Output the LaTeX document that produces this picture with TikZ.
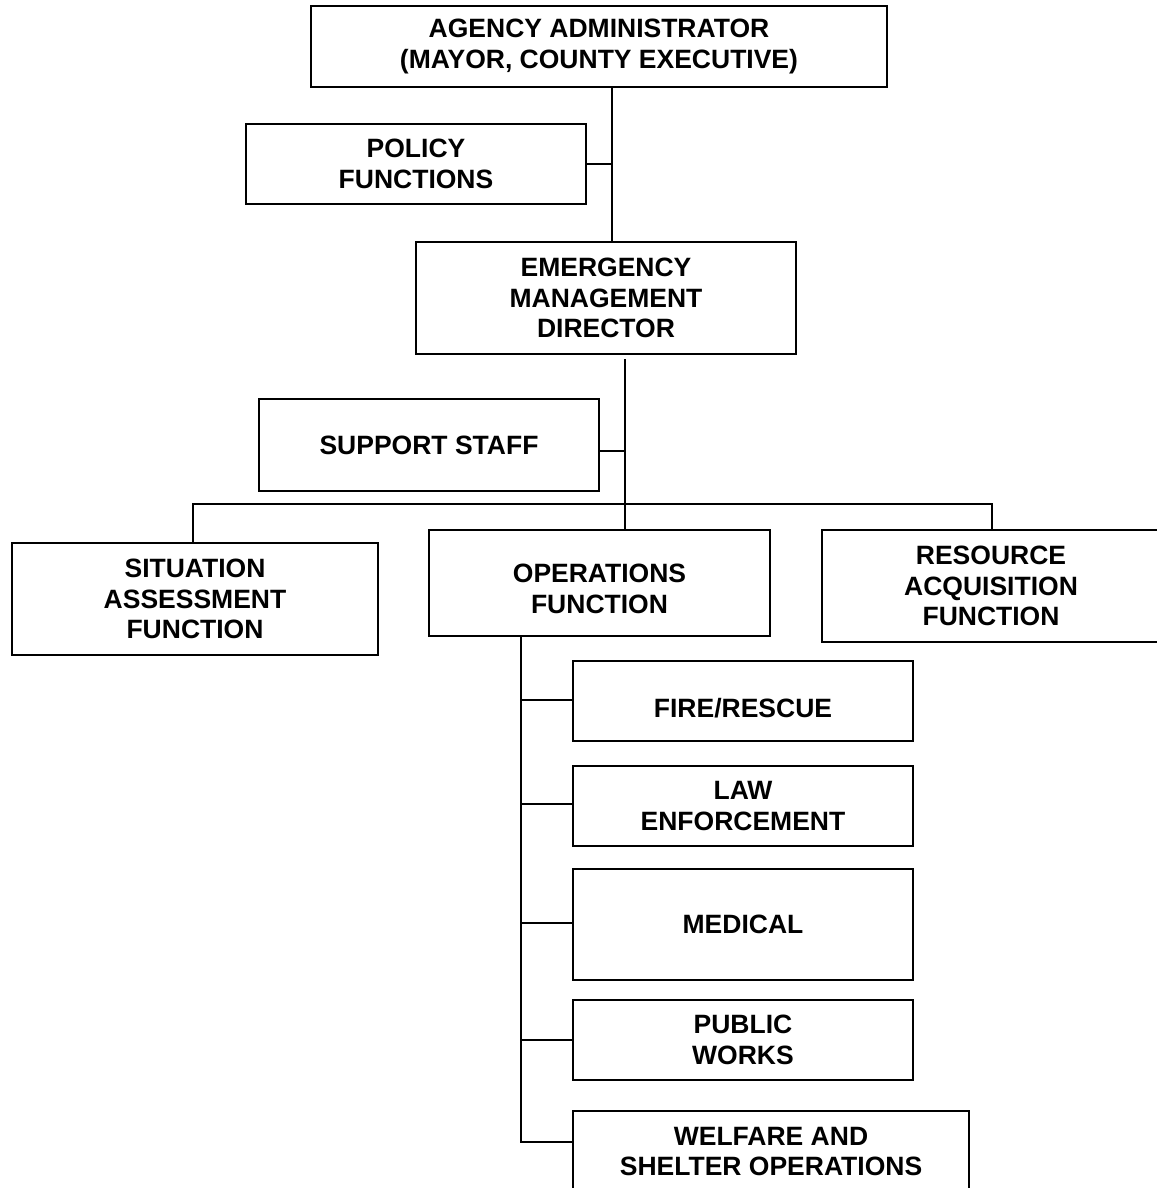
\documentclass[tikz,border=0pt]{standalone}
\usepackage{fontspec}
\setmainfont{Liberation Sans}
\usetikzlibrary{calc}
\tikzset{
  orgbox/.style={draw=black, line width=2pt, inner sep=0pt, outer sep=0pt,
    align=center, font=\fontsize{26.5}{30.5}\selectfont\bfseries},
  link/.style={draw=black, line width=2pt}
}
\newcommand{\lowerby}[2]{\raisebox{-#1}[\height][\depth]{#2}}
\newcommand{\shiftleft}[2]{\hbox{\kern-#1\relax #2\kern#1\relax}}
\begin{document}
\begin{tikzpicture}[x=1pt,y=-1pt]
\useasboundingbox (0,0) rectangle (1156,1188);
% boxes
\node[orgbox, minimum width=576, minimum height=81] (agency) at (599,46.5) {AGENCY ADMINISTRATOR\\(MAYOR, COUNTY EXECUTIVE)};
\node[orgbox, minimum width=340, minimum height=80] (policy) at (416,164) {POLICY\\FUNCTIONS};
\node[orgbox, minimum width=380, minimum height=112] (emd) at (606,298) {EMERGENCY\\MANAGEMENT\\DIRECTOR};
\node[orgbox, minimum width=340, minimum height=92] (support) at (429,445) {SUPPORT STAFF};
\node[orgbox, minimum width=366, minimum height=112] (situation) at (195,599) {SITUATION\\ASSESSMENT\\FUNCTION};
\node[orgbox, minimum width=341, minimum height=106] (ops) at (599.5,583) {\lowerby{6pt}{OPERATIONS}\\\lowerby{6pt}{FUNCTION}};
\node[orgbox, minimum width=358, minimum height=112] (resource) at (1001,586) {\shiftleft{10pt}{RESOURCE}\\\shiftleft{10pt}{ACQUISITION}\\\shiftleft{10pt}{FUNCTION}};
\node[orgbox, minimum width=340, minimum height=80] (fire) at (743,701) {\lowerby{7pt}{FIRE/RESCUE}};
\node[orgbox, minimum width=340, minimum height=80] (law) at (743,806) {LAW\\ENFORCEMENT};
\node[orgbox, minimum width=340, minimum height=111] (medical) at (743,924.5) {MEDICAL};
\node[orgbox, minimum width=340, minimum height=80] (public) at (743,1040) {PUBLIC\\WORKS};
\node[orgbox, minimum width=396, minimum height=81] (welfare) at (771,1151.5) {WELFARE AND\\SHELTER OPERATIONS};
% helper coordinates
\coordinate (a1) at (612,0);
\coordinate (b1) at (625,0);
\coordinate (s1) at (625,451);
\coordinate (h1) at (193,504);
\coordinate (h2) at (992,504);
\coordinate (v1) at (521,0);
\coordinate (w1) at (521,1142);
% connectors
\draw[link] (a1 |- agency.south) -- (a1 |- emd.north);
\draw[link] (policy.east) -- (policy.east -| a1);
\draw[link] ($(b1 |- emd.south)+(0,5)$) -- (b1 |- ops.north);
\draw[link] (s1 -| support.east) -- (s1);
\draw[link] (situation.north -| h1) -- (h1) -- (h2) -- (h2 |- resource.north);
\draw[link] (v1 |- ops.south) -- (w1) -- (w1 -| welfare.west);
\draw[link] ($(v1 |- fire.west)+(0,-1)$) -- ($(fire.west)+(0,-1)$);
\draw[link] ($(v1 |- law.west)+(0,-2)$) -- ($(law.west)+(0,-2)$);
\draw[link] ($(v1 |- medical.west)+(0,-1.5)$) -- ($(medical.west)+(0,-1.5)$);
\draw[link] (v1 |- public.west) -- (public.west);
\end{tikzpicture}
\end{document}
